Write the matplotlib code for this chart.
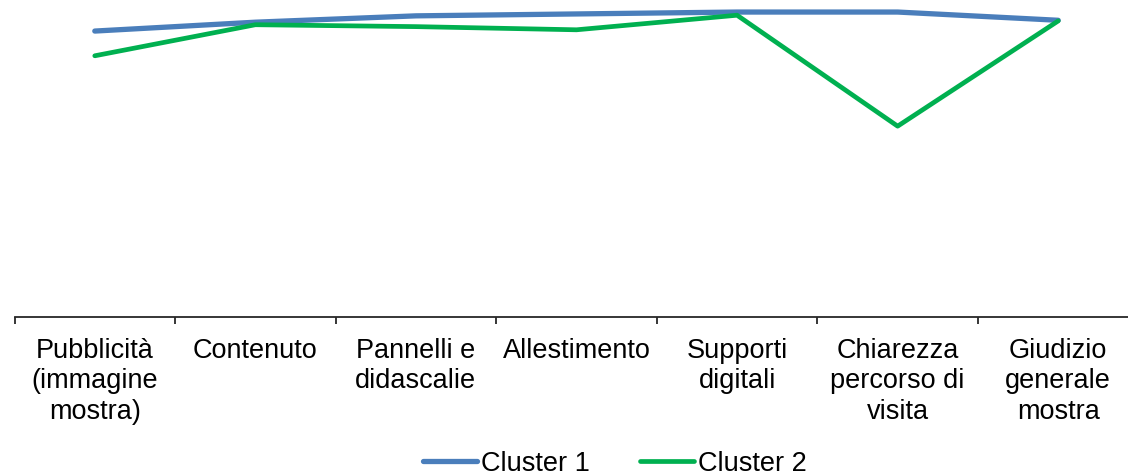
import matplotlib.pyplot as plt
import numpy as np

plt.rcParams['font.family'] = ['Liberation Sans', 'DejaVu Sans']

categories = ['Pubblicità\n(immagine\nmostra)', 'Contenuto', 'Pannelli e\ndidascalie',
              'Allestimento', 'Supporti\ndigitali', 'Chiarezza\npercorso di\nvisita',
              'Giudizio\ngenerale\nmostra']
cluster1 = [4.51, 4.65, 4.75, 4.78, 4.81, 4.81, 4.68]
cluster2 = [4.12, 4.61, 4.58, 4.53, 4.76, 3.01, 4.67]

fig = plt.figure(figsize=(11.28, 4.74), dpi=100)
# plot area runs a little past the right edge, like the original
ax = fig.add_axes([14.5 / 1128, (474 - 317) / 474, 1124 / 1128, 317 / 474])

x = np.arange(len(categories))
ax.plot(x, cluster1, color='#4A7EBB', lw=3.8, solid_capstyle='round', label='Cluster 1', clip_on=False)
ax.plot(x, cluster2, color='#00B050', lw=3.4, solid_capstyle='round', label='Cluster 2', clip_on=False)

ax.set_xlim(-0.5, len(categories) - 0.5)
ax.set_ylim(0, 5)

for s in ['top', 'right', 'left']:
    ax.spines[s].set_visible(False)
ax.spines['bottom'].set_color('#262626')
ax.spines['bottom'].set_linewidth(1.3)
ax.set_yticks([])

# tick marks on category borders, labels in the middle
ax.set_xticks(np.arange(-0.5, len(categories), 1.0))
ax.set_xticklabels([])
ax.tick_params(axis='x', which='major', direction='out', length=5, width=1.3, color='#262626')
ax.set_xticks(x, minor=True)
ax.set_xticklabels(categories, minor=True, fontsize=19.5, linespacing=1.22)
ax.tick_params(axis='x', which='minor', length=0, pad=15)

fig.legend(loc='center', bbox_to_anchor=(0.545, 0.022), ncol=2, frameon=False,
           fontsize=19.5, handlelength=2.0, handletextpad=0.15, columnspacing=1.85,
           borderpad=0)

fig.savefig('out.png', dpi=100)
